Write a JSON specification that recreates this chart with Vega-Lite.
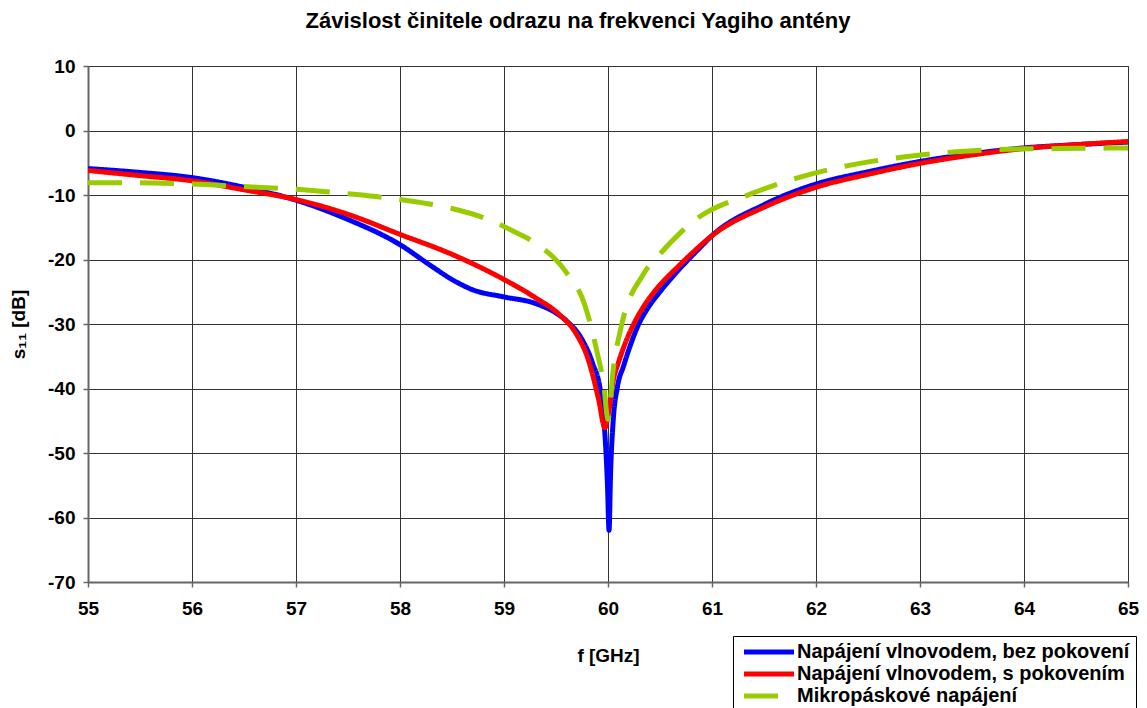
{
  "$schema": "https://vega.github.io/schema/vega-lite/v6.json",
  "width": 1040,
  "height": 516,
  "autosize": "none",
  "padding": {"left": 88, "top": 66, "right": 19, "bottom": 126},
  "background": "white",
  "title": {"text": "Závislost činitele odrazu na frekvenci Yagiho antény", "font": "Liberation Sans", "fontSize": 22, "fontWeight": "bold", "color": "black", "offset": 24, "dx": -30},
  "data": {"values": [
    {"series": "Napájení vlnovodem, bez pokovení", "f": 55, "s11": -5.9},
    {"series": "Napájení vlnovodem, bez pokovení", "f": 55.5, "s11": -6.5},
    {"series": "Napájení vlnovodem, bez pokovení", "f": 56, "s11": -7.3},
    {"series": "Napájení vlnovodem, bez pokovení", "f": 56.5, "s11": -8.8},
    {"series": "Napájení vlnovodem, bez pokovení", "f": 57, "s11": -10.8},
    {"series": "Napájení vlnovodem, bez pokovení", "f": 57.5, "s11": -13.8},
    {"series": "Napájení vlnovodem, bez pokovení", "f": 58, "s11": -17.7},
    {"series": "Napájení vlnovodem, bez pokovení", "f": 58.3, "s11": -21},
    {"series": "Napájení vlnovodem, bez pokovení", "f": 58.5, "s11": -23.1},
    {"series": "Napájení vlnovodem, bez pokovení", "f": 58.7, "s11": -24.7},
    {"series": "Napájení vlnovodem, bez pokovení", "f": 59, "s11": -25.8},
    {"series": "Napájení vlnovodem, bez pokovení", "f": 59.3, "s11": -26.8},
    {"series": "Napájení vlnovodem, bez pokovení", "f": 59.5, "s11": -28.3},
    {"series": "Napájení vlnovodem, bez pokovení", "f": 59.6, "s11": -29.5},
    {"series": "Napájení vlnovodem, bez pokovení", "f": 59.75, "s11": -32.4},
    {"series": "Napájení vlnovodem, bez pokovení", "f": 59.85, "s11": -36},
    {"series": "Napájení vlnovodem, bez pokovení", "f": 59.93, "s11": -40.7},
    {"series": "Napájení vlnovodem, bez pokovení", "f": 59.97, "s11": -47},
    {"series": "Napájení vlnovodem, bez pokovení", "f": 59.995, "s11": -55},
    {"series": "Napájení vlnovodem, bez pokovení", "f": 60.01, "s11": -62},
    {"series": "Napájení vlnovodem, bez pokovení", "f": 60.025, "s11": -53},
    {"series": "Napájení vlnovodem, bez pokovení", "f": 60.05, "s11": -45},
    {"series": "Napájení vlnovodem, bez pokovení", "f": 60.09, "s11": -39.8},
    {"series": "Napájení vlnovodem, bez pokovení", "f": 60.15, "s11": -36.5},
    {"series": "Napájení vlnovodem, bez pokovení", "f": 60.2, "s11": -34},
    {"series": "Napájení vlnovodem, bez pokovení", "f": 60.29, "s11": -30.2},
    {"series": "Napájení vlnovodem, bez pokovení", "f": 60.38, "s11": -27.6},
    {"series": "Napájení vlnovodem, bez pokovení", "f": 60.5, "s11": -25},
    {"series": "Napájení vlnovodem, bez pokovení", "f": 60.68, "s11": -21.6},
    {"series": "Napájení vlnovodem, bez pokovení", "f": 60.87, "s11": -18.4},
    {"series": "Napájení vlnovodem, bez pokovení", "f": 61, "s11": -16.3},
    {"series": "Napájení vlnovodem, bez pokovení", "f": 61.5, "s11": -11.5},
    {"series": "Napájení vlnovodem, bez pokovení", "f": 62, "s11": -8.3},
    {"series": "Napájení vlnovodem, bez pokovení", "f": 62.5, "s11": -6.4},
    {"series": "Napájení vlnovodem, bez pokovení", "f": 63, "s11": -4.8},
    {"series": "Napájení vlnovodem, bez pokovení", "f": 63.5, "s11": -3.6},
    {"series": "Napájení vlnovodem, bez pokovení", "f": 64, "s11": -2.7},
    {"series": "Napájení vlnovodem, bez pokovení", "f": 64.5, "s11": -2.2},
    {"series": "Napájení vlnovodem, bez pokovení", "f": 65, "s11": -1.8},
    {"series": "Napájení vlnovodem, s pokovením", "f": 55, "s11": -6.2},
    {"series": "Napájení vlnovodem, s pokovením", "f": 55.5, "s11": -7.0},
    {"series": "Napájení vlnovodem, s pokovením", "f": 56, "s11": -7.8},
    {"series": "Napájení vlnovodem, s pokovením", "f": 56.5, "s11": -9.2},
    {"series": "Napájení vlnovodem, s pokovením", "f": 57, "s11": -10.7},
    {"series": "Napájení vlnovodem, s pokovením", "f": 57.5, "s11": -13},
    {"series": "Napájení vlnovodem, s pokovením", "f": 58, "s11": -16.1},
    {"series": "Napájení vlnovodem, s pokovením", "f": 58.5, "s11": -19.2},
    {"series": "Napájení vlnovodem, s pokovením", "f": 59, "s11": -23.1},
    {"series": "Napájení vlnovodem, s pokovením", "f": 59.3, "s11": -25.9},
    {"series": "Napájení vlnovodem, s pokovením", "f": 59.53, "s11": -28.5},
    {"series": "Napájení vlnovodem, s pokovením", "f": 59.69, "s11": -31.4},
    {"series": "Napájení vlnovodem, s pokovením", "f": 59.81, "s11": -35.5},
    {"series": "Napájení vlnovodem, s pokovením", "f": 59.91, "s11": -41.7},
    {"series": "Napájení vlnovodem, s pokovením", "f": 59.97, "s11": -46.1},
    {"series": "Napájení vlnovodem, s pokovením", "f": 60.005, "s11": -43.8},
    {"series": "Napájení vlnovodem, s pokovením", "f": 60.05, "s11": -38.8},
    {"series": "Napájení vlnovodem, s pokovením", "f": 60.1, "s11": -36},
    {"series": "Napájení vlnovodem, s pokovením", "f": 60.18, "s11": -32.4},
    {"series": "Napájení vlnovodem, s pokovením", "f": 60.26, "s11": -29.6},
    {"series": "Napájení vlnovodem, s pokovením", "f": 60.35, "s11": -27.1},
    {"series": "Napájení vlnovodem, s pokovením", "f": 60.47, "s11": -24.5},
    {"series": "Napájení vlnovodem, s pokovením", "f": 60.68, "s11": -21},
    {"series": "Napájení vlnovodem, s pokovením", "f": 60.87, "s11": -18.1},
    {"series": "Napájení vlnovodem, s pokovením", "f": 61, "s11": -16.3},
    {"series": "Napájení vlnovodem, s pokovením", "f": 61.5, "s11": -11.9},
    {"series": "Napájení vlnovodem, s pokovením", "f": 62, "s11": -8.8},
    {"series": "Napájení vlnovodem, s pokovením", "f": 62.5, "s11": -6.8},
    {"series": "Napájení vlnovodem, s pokovením", "f": 63, "s11": -5.1},
    {"series": "Napájení vlnovodem, s pokovením", "f": 63.5, "s11": -3.8},
    {"series": "Napájení vlnovodem, s pokovením", "f": 64, "s11": -2.8},
    {"series": "Napájení vlnovodem, s pokovením", "f": 64.5, "s11": -2.2},
    {"series": "Napájení vlnovodem, s pokovením", "f": 65, "s11": -1.7},
    {"series": "Mikropáskové napájení", "f": 55, "s11": -8.1},
    {"series": "Mikropáskové napájení", "f": 55.5, "s11": -8.1},
    {"series": "Mikropáskové napájení", "f": 56, "s11": -8.3},
    {"series": "Mikropáskové napájení", "f": 56.5, "s11": -8.7},
    {"series": "Mikropáskové napájení", "f": 57, "s11": -9.1},
    {"series": "Mikropáskové napájení", "f": 57.5, "s11": -9.8},
    {"series": "Mikropáskové napájení", "f": 58, "s11": -10.7},
    {"series": "Mikropáskové napájení", "f": 58.5, "s11": -12.1},
    {"series": "Mikropáskové napájení", "f": 58.85, "s11": -13.8},
    {"series": "Mikropáskové napájení", "f": 59.1, "s11": -15.7},
    {"series": "Mikropáskové napájení", "f": 59.335, "s11": -17.8},
    {"series": "Mikropáskové napájení", "f": 59.59, "s11": -21.8},
    {"series": "Mikropáskové napájení", "f": 59.78, "s11": -27.2},
    {"series": "Mikropáskové napájení", "f": 59.89, "s11": -34},
    {"series": "Mikropáskové napájení", "f": 59.96, "s11": -39.6},
    {"series": "Mikropáskové napájení", "f": 60.0, "s11": -44.8},
    {"series": "Mikropáskové napájení", "f": 60.05, "s11": -37.1},
    {"series": "Mikropáskové napájení", "f": 60.13, "s11": -30.2},
    {"series": "Mikropáskové napájení", "f": 60.34, "s11": -22.3},
    {"series": "Mikropáskové napájení", "f": 60.53, "s11": -18.6},
    {"series": "Mikropáskové napájení", "f": 60.68, "s11": -16.1},
    {"series": "Mikropáskové napájení", "f": 60.87, "s11": -13.5},
    {"series": "Mikropáskové napájení", "f": 61.33, "s11": -10.1},
    {"series": "Mikropáskové napájení", "f": 61.83, "s11": -7.3},
    {"series": "Mikropáskové napájení", "f": 62.32, "s11": -5.4},
    {"series": "Mikropáskové napájení", "f": 62.84, "s11": -4.1},
    {"series": "Mikropáskové napájení", "f": 63.35, "s11": -3.3},
    {"series": "Mikropáskové napájení", "f": 63.85, "s11": -2.9},
    {"series": "Mikropáskové napájení", "f": 64.36, "s11": -2.8},
    {"series": "Mikropáskové napájení", "f": 65, "s11": -2.7}
  ]},
  "mark": {"type": "line", "strokeWidth": 5, "interpolate": "monotone", "clip": true},
  "encoding": {
    "x": {"field": "f", "type": "quantitative",
      "scale": {"domain": [55, 65], "nice": false, "zero": false},
      "axis": {"values": [55, 56, 57, 58, 59, 60, 61, 62, 63, 64, 65], "title": "f [GHz]", "titlePadding": 28, "labelPadding": 12}},
    "y": {"field": "s11", "type": "quantitative",
      "scale": {"domain": [-70, 10], "nice": false, "zero": false},
      "axis": {"values": [-70, -60, -50, -40, -30, -20, -10, 0, 10], "title": "s₁₁ [dB]", "titlePadding": 19, "labelPadding": 8,
        "labelExpr": "datum.value < 0 ? '-' + abs(datum.value) : '' + datum.value"}},
    "color": {"field": "series", "type": "nominal",
      "scale": {"domain": ["Napájení vlnovodem, bez pokovení", "Napájení vlnovodem, s pokovením", "Mikropáskové napájení"], "range": ["#0000FF", "#FF0000", "#99CC00"]},
      "legend": {"title": null}},
    "strokeDash": {"field": "series", "type": "nominal",
      "scale": {"domain": ["Napájení vlnovodem, bez pokovení", "Napájení vlnovodem, s pokovením", "Mikropáskové napájení"], "range": [[1, 0], [1, 0], [34, 18]]},
      "legend": {"title": null}}
  },
  "config": {
    "font": "Liberation Sans",
    "view": {"stroke": "#666", "strokeWidth": 1},
    "axis": {
      "labelFont": "Liberation Sans", "labelFontSize": 19, "labelFontWeight": "bold", "labelColor": "black", "labelFlush": false,
      "titleFont": "Liberation Sans", "titleFontSize": 19, "titleFontWeight": "bold", "titleColor": "black",
      "domainColor": "#666", "domainWidth": 2, "tickColor": "#666", "tickSize": 5, "tickWidth": 1.5,
      "gridColor": "#333", "gridWidth": 1, "gridOpacity": 1, "grid": true
    },
    "legend": {
      "orient": "none", "legendX": 645, "legendY": 570,
      "strokeColor": "black", "fillColor": "white", "padding": 6,
      "symbolType": "M-1,0H9", "symbolSize": 100, "symbolStrokeWidth": 5,
      "labelFont": "Liberation Sans", "labelFontSize": 20, "labelFontWeight": "bold", "labelColor": "black",
      "labelLimit": 500, "labelOffset": 38, "rowPadding": 2
    }
  }
}
